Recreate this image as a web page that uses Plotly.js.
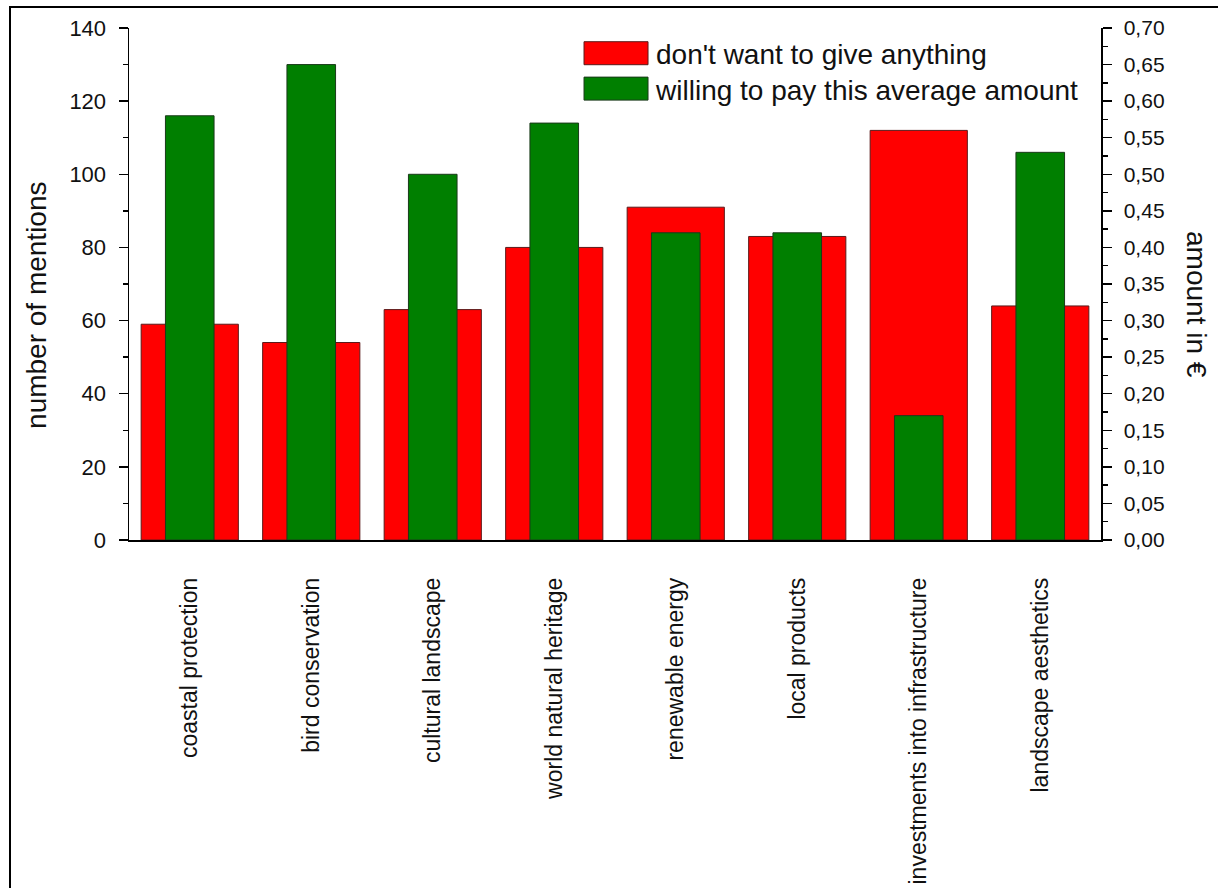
<!DOCTYPE html>
<html>
<head>
<meta charset="utf-8">
<script src="https://cdn.plot.ly/plotly-3.0.1.min.js"></script>
<style>
html, body { margin: 0; padding: 0; background: #fff; overflow: hidden; }
#chart { width: 1219px; height: 888px; }
#frame { position: absolute; left: 9px; top: 6px; width: 1207px; height: 900px;
         border-left: 2px solid #000; border-top: 2px solid #000; pointer-events: none; }
</style>
</head>
<body>
<div id="chart"></div>
<div id="frame"></div>
<script>
const categories = ["coastal protection", "bird conservation", "cultural landscape", "world natural heritage",
                    "renewable energy", "local products", "investments into infrastructure", "landscape aesthetics"];
const dontGiveAnything = [59, 54, 63, 80, 91, 83, 112, 64];
const willingAmount = [0.58, 0.65, 0.50, 0.57, 0.42, 0.42, 0.17, 0.53];
const seriesNames = ["don't want to give anything", "willing to pay this average amount"];
const leftAxisTitle = "number of mentions";
const rightAxisTitle = "amount in €";

const FONT = "Liberation Sans, Arial, Helvetica, sans-serif";
const xr = [-0.5, categories.length - 0.5];

const traces = [
  {
    type: "bar", name: seriesNames[0], x: categories, y: dontGiveAnything,
    xaxis: "x", yaxis: "y", width: 0.8,
    marker: { color: "#ff0000", line: { color: "#5a1a1a", width: 1 } },
    hoverinfo: "x+y"
  },
  {
    type: "bar", name: seriesNames[1], x: categories, y: willingAmount,
    xaxis: "x", yaxis: "y2", width: 0.4,
    marker: { color: "#007f00", line: { color: "#1a3a1a", width: 1 } },
    hoverinfo: "x+y"
  }
];

const tickStyle = { tickcolor: "#000", tickwidth: 1.5 };

const layout = {
  width: 1219, height: 888,
  margin: { l: 129, r: 118, t: 28, b: 348, pad: 0 },
  paper_bgcolor: "rgba(0,0,0,0)", plot_bgcolor: "#fff",
  font: { family: FONT, size: 22, color: "#111" },
  separators: ",.",
  barmode: "overlay",
  bargap: 0,
  showlegend: true,
  legend: {
    x: 0.4599, y: 0.999, xanchor: "left", yanchor: "top",
    bgcolor: "rgba(255,255,255,0)", borderwidth: 0,
    font: { family: FONT, size: 28, color: "#111" },
    itemwidth: 70, tracegroupgap: 0, traceorder: "normal"
  },
  xaxis: {
    type: "category", categoryorder: "array", categoryarray: categories,
    range: xr, showline: true, linecolor: "#000", linewidth: 1.5,
    ticks: "", showgrid: false, zeroline: false,
    tickangle: -90, ticklabelstandoff: 27,
    tickfont: { family: FONT, size: 23, color: "#111" }
  },
  xaxis2: {
    type: "linear", overlaying: "x", anchor: "y", side: "bottom",
    range: xr, tick0: -0.5, dtick: 0.5, tickmode: "linear",
    ticks: "outside", ticklen: 9, ...tickStyle,
    showticklabels: false, showline: false, showgrid: false, zeroline: false
  },
  xaxis3: {
    type: "linear", overlaying: "x", anchor: "y", side: "top",
    range: xr, tick0: -0.5, dtick: 0.5, tickmode: "linear",
    ticks: "inside", ticklen: 9, ...tickStyle,
    showticklabels: false, showline: true, linecolor: "#000", linewidth: 1.5,
    showgrid: false, zeroline: false
  },
  yaxis: {
    range: [0, 140], dtick: 20, tick0: 0,
    ticks: "outside", ticklen: 9, ...tickStyle,
    minor: { dtick: 10, ticks: "outside", ticklen: 5, tickcolor: "#000", tickwidth: 1.5, showgrid: false },
    showline: true, linecolor: "#000", linewidth: 1.5,
    showgrid: false, zeroline: false,
    ticklabelstandoff: 8,
    tickfont: { family: FONT, size: 22, color: "#111" }
  },
  yaxis2: {
    overlaying: "y", side: "right", anchor: "x",
    range: [0, 0.7], dtick: 0.05, tick0: 0, tickformat: ".2f",
    ticks: "outside", ticklen: 9, ...tickStyle,
    minor: { dtick: 0.025, ticks: "outside", ticklen: 5, tickcolor: "#000", tickwidth: 1.5, showgrid: false },
    showline: true, linecolor: "#000", linewidth: 1.5,
    showgrid: false, zeroline: false,
    ticklabelstandoff: 8,
    tickfont: { family: FONT, size: 21, color: "#111" }
  },
  annotations: [
    {
      text: leftAxisTitle, xref: "paper", yref: "paper",
      x: -0.0947, y: 0.459, xanchor: "center", yanchor: "middle",
      textangle: -90, showarrow: false,
      font: { family: FONT, size: 28, color: "#111" }
    },
    {
      text: rightAxisTitle, xref: "paper", yref: "paper",
      x: 1.0977, y: 0.459, xanchor: "center", yanchor: "middle",
      textangle: 90, showarrow: false,
      font: { family: FONT, size: 28, color: "#111" }
    }
  ]
};

const gd = document.getElementById("chart");
Plotly.newPlot(gd, traces, layout, { displayModeBar: false, staticPlot: true }).then(function () {
  // widen the legend swatches to look like the reference's long rectangles
  gd.querySelectorAll(".legend .traces .legendpoints path").forEach(function (p) {
    p.setAttribute("d", "M-32,-11.5H32V11.5H-32Z");
  });
  // tighten the legend row spacing slightly to match the reference
  const items = gd.querySelectorAll(".legend .traces");
  items.forEach(function (g, i) {
    const t = g.getAttribute("transform") || "";
    const m = t.match(/translate\(\s*([-\d.]+)[ ,]+([-\d.]+)\s*\)/);
    if (m && i > 0) {
      g.setAttribute("transform", "translate(" + m[1] + "," + (parseFloat(m[2]) - 4 * i) + ")");
    }
  });
});
</script>
</body>
</html>
